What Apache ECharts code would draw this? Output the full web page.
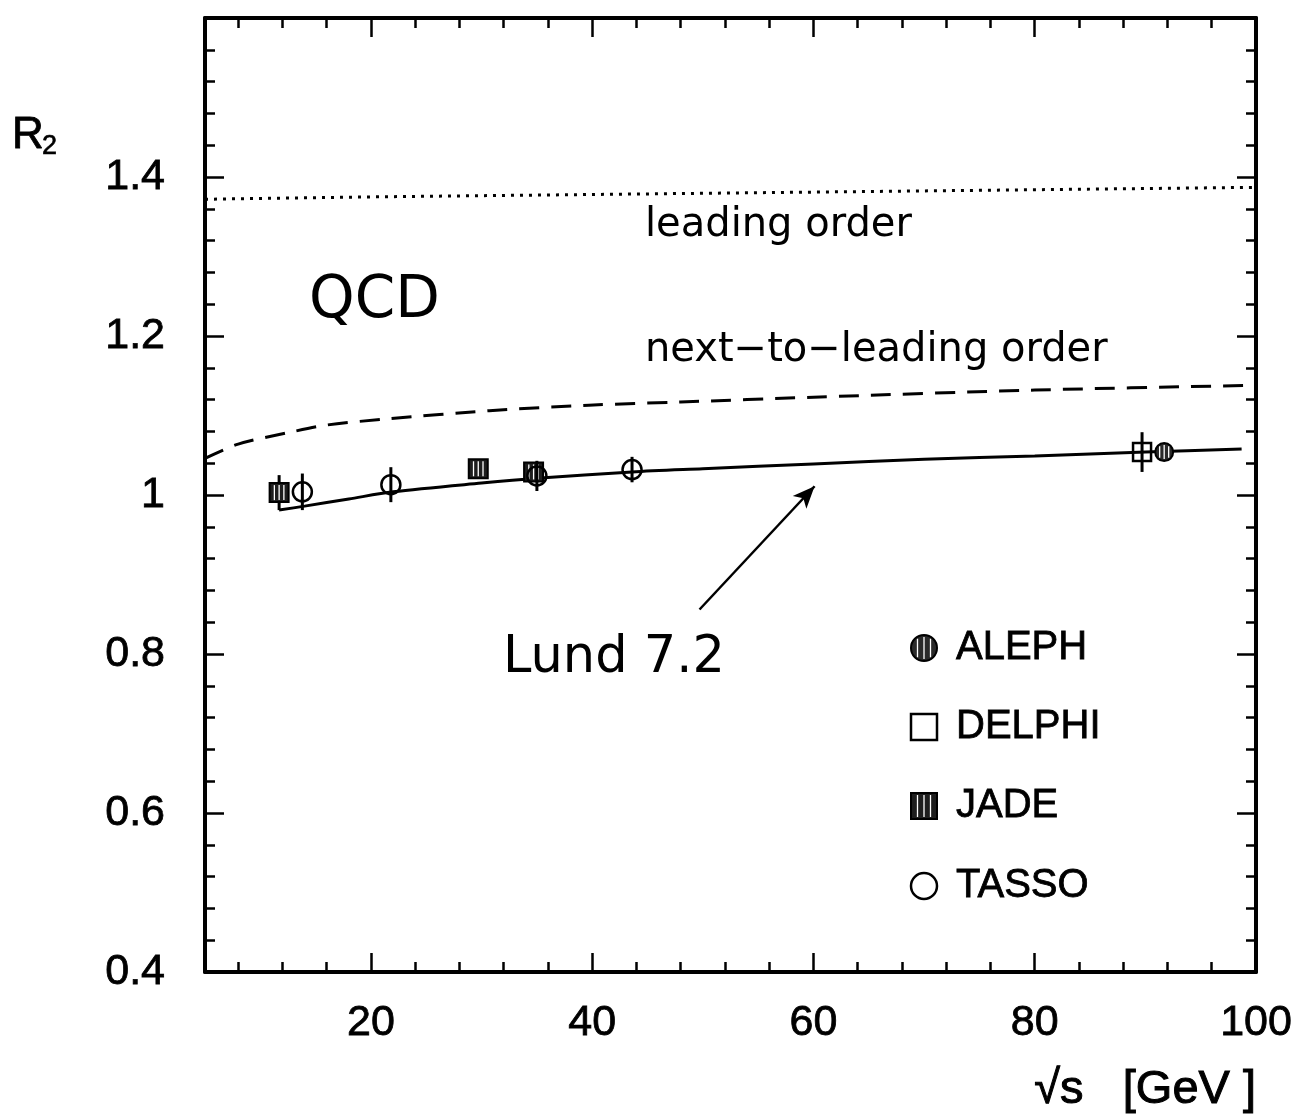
<!DOCTYPE html>
<html>
<head>
<meta charset="utf-8">
<script src="https://cdn.jsdelivr.net/npm/echarts@6/dist/echarts.min.js"></script>
<style>
html,body{margin:0;padding:0;background:#fff}
#main{width:1308px;height:1115px}
</style>
</head>
<body>
<div id="main"></div>
<script>
// values
let lo_x = [5, 20, 40, 60, 80, 100];
let lo_y = [1.372, 1.375, 1.378, 1.381, 1.384, 1.387];

let nlo_x = [5, 8, 12.7, 16, 21.7, 30.7, 39.7, 48, 60, 80, 100];
let nlo_y = [1.046, 1.064, 1.079, 1.088, 1.096, 1.106, 1.113, 1.117, 1.123, 1.132, 1.138];

let lund_x = [11.7, 14, 18, 22, 30, 35, 43.6, 50, 60, 70, 80, 90, 98.7];
let lund_y = [0.981, 0.986, 0.995, 1.004, 1.015, 1.021, 1.029, 1.033, 1.039, 1.045, 1.049, 1.054, 1.058];

// [sqrt(s), R2, error]
let aleph = [[91.7, 1.054, 0.004]];
let delphi = [[89.7, 1.054, 0.025]];
let jade = [[11.7, 1.003, 0.022], [29.7, 1.033, 0], [34.7, 1.029, 0.004]];
let tasso = [[13.8, 1.004, 0.023], [21.8, 1.013, 0.022], [35, 1.024, 0.019], [43.6, 1.032, 0.016]];

let arrow_from = [49.7, 0.856];
let arrow_to = [60.1, 1.011];

let x_major = [20, 40, 60, 80, 100];
let x_minor = [8, 12, 16, 24, 28, 32, 36, 44, 48, 52, 56, 64, 68, 72, 76, 84, 88, 92, 96];

function zip(a, b) {
	return a.map(function (v, i) { return [v, b[i]]; });
}

function stripes(cx, cy, hw, hh, round, n) {
	let out = [];
	for (let i = 1; i <= n; i++) {
		let dx = -hw + 2 * hw * i / (n + 1);
		let h = round ? Math.sqrt(hw * hw - dx * dx) : hh;
		out.push({
			type: 'line',
			shape: {x1: cx + dx, y1: cy - h + 2, x2: cx + dx, y2: cy + h - 2},
			style: {stroke: '#fff', lineWidth: 1.3}
		});
	}
	return out;
}

function marker(kind, cx, cy, r) {
	if (kind == 'circle') {
		return [{type: 'circle', shape: {cx: cx, cy: cy, r: r}, style: {fill: 'none', stroke: '#000', lineWidth: 2.5}}];
	}
	if (kind == 'square') {
		return [{type: 'rect', shape: {x: cx - r, y: cy - r, width: 2 * r, height: 2 * r}, style: {fill: 'none', stroke: '#000', lineWidth: 2.5}}];
	}
	if (kind == 'scircle') {
		return [{type: 'circle', shape: {cx: cx, cy: cy, r: r}, style: {fill: '#2a2a2a', stroke: '#000', lineWidth: 2}}]
			.concat(stripes(cx, cy, r, r, true, 3));
	}
	// striped square
	return [{type: 'rect', shape: {x: cx - r, y: cy - r, width: 2 * r, height: 2 * r}, style: {fill: '#1e1e1e', stroke: '#000', lineWidth: 2}}]
		.concat(stripes(cx, cy, r, r, false, 3));
}

function errRender(kind, r) {
	return function (params, api) {
		let x = api.value(0), y = api.value(1), e = api.value(2);
		let p = api.coord([x, y]);
		let kids = [];
		if (e > 0) {
			let t = api.coord([x, y + e]), b = api.coord([x, y - e]);
			kids.push({type: 'line', shape: {x1: p[0], y1: t[1], x2: p[0], y2: b[1]}, style: {stroke: '#000', lineWidth: 3}});
		}
		return {type: 'group', children: kids.concat(marker(kind, p[0], p[1], r))};
	};
}

let chart = echarts.init(document.getElementById('main'));

let tickStyle = {color: '#000', width: 2.5};
let axisLineStyle = {color: '#000', width: 4};
let labelFont = {fontFamily: 'Liberation Sans', fontSize: 43, color: '#000', textBorderColor: '#000', textBorderWidth: 0.8};

function xAx(pos, vals, len, main) {
	return {
		type: 'value', position: pos, min: 5, max: 100,
		axisLine: {show: main, onZero: false, lineStyle: axisLineStyle},
		axisTick: {show: true, inside: true, length: len, customValues: vals, lineStyle: tickStyle},
		axisLabel: (main && pos == 'bottom') ? Object.assign({show: true, margin: 30, customValues: x_major}, labelFont) : {show: false},
		splitLine: {show: false}
	};
}

function yAx(pos, labels) {
	return {
		type: 'value', position: pos, min: 0.4, max: 1.6, interval: 0.2,
		axisLine: {show: true, onZero: false, lineStyle: axisLineStyle},
		axisTick: {show: true, inside: true, length: 19, lineStyle: tickStyle},
		minorTick: {show: true, splitNumber: 5, length: 10, lineStyle: tickStyle},
		axisLabel: labels ? Object.assign({show: true, margin: 40, showMaxLabel: false}, labelFont) : {show: false},
		splitLine: {show: false}
	};
}

// legend drawn by hand so the striped symbols match
let legendItems = [
	['ALEPH', 'scircle', 648],
	['DELPHI', 'square', 727],
	['JADE', 'ssquare', 806],
	['TASSO', 'circle', 886]
];
let legendGraphics = [];
legendItems.forEach(function (it) {
	legendGraphics.push({type: 'group', children: marker(it[1], 924, it[2], 13)});
	legendGraphics.push({
		type: 'text',
		style: {x: 956, y: it[2], text: it[0], font: '40px "Liberation Sans"', fill: '#000', stroke: '#000', lineWidth: 0.8, textVerticalAlign: 'middle'}
	});
});

let annotations = [
	{type: 'text', style: {x: 645, y: 226, text: 'leading order', font: '40px "DejaVu Sans"', fill: '#000', textVerticalAlign: 'middle'}},
	{type: 'text', style: {x: 645, y: 351, text: 'next\u2212to\u2212leading order', font: '40px "DejaVu Sans"', fill: '#000', textVerticalAlign: 'middle'}},
	{type: 'text', style: {x: 309, y: 302, text: 'QCD', font: '58px "DejaVu Sans"', fill: '#000', textVerticalAlign: 'middle'}},
	{type: 'text', style: {x: 503, y: 659, text: 'Lund 7.2', font: '51px "DejaVu Sans"', fill: '#000', textVerticalAlign: 'middle'}},
	{type: 'text', style: {x: 12, y: 136, text: 'R', font: '44px "Liberation Sans"', fill: '#000', stroke: '#000', lineWidth: 0.8, textVerticalAlign: 'middle'}},
	{type: 'text', style: {x: 42, y: 147, text: '2', font: '27px "Liberation Sans"', fill: '#000', stroke: '#000', lineWidth: 0.6, textVerticalAlign: 'middle'}},
	{type: 'text', style: {x: 1256, y: 1090, text: '\u221As   [GeV ]', font: '47px "Liberation Sans"', fill: '#000', stroke: '#000', lineWidth: 1, textAlign: 'right', textVerticalAlign: 'middle'}}
];

let option = {
	animation: false,
	backgroundColor: '#fff',
	grid: {left: 205, right: 52, top: 18, bottom: 143, containLabel: false},
	xAxis: [
		xAx('bottom', x_major, 19, true),
		xAx('bottom', x_minor, 10, false),
		xAx('top', x_major, 19, true),
		xAx('top', x_minor, 10, false)
	],
	yAxis: [yAx('left', true), yAx('right', false)],
	graphic: annotations.concat(legendGraphics),
	series: [
		{
			name: 'leading order', type: 'line', data: zip(lo_x, lo_y), showSymbol: false,
			lineStyle: {color: '#000', width: 3, type: [3, 6]}
		},
		{
			name: 'next-to-leading order', type: 'line', data: zip(nlo_x, nlo_y), showSymbol: false, smooth: 0.3,
			lineStyle: {color: '#000', width: 3, type: [20, 12]}
		},
		{
			name: 'Lund 7.2', type: 'line', data: zip(lund_x, lund_y), showSymbol: false, smooth: 0.3,
			lineStyle: {color: '#000', width: 3},
			markLine: {
				silent: true, symbol: ['none', 'arrow'], symbolSize: [14, 22],
				label: {show: false},
				lineStyle: {color: '#000', width: 2.5, type: 'solid'},
				data: [[{coord: arrow_from}, {coord: arrow_to}]]
			}
		},
		{name: 'JADE', type: 'custom', renderItem: errRender('ssquare', 9.5), data: jade, encode: {x: 0, y: 1}, z: 5},
		{name: 'TASSO', type: 'custom', renderItem: errRender('circle', 9.5), data: tasso, encode: {x: 0, y: 1}, z: 6},
		{name: 'DELPHI', type: 'custom', renderItem: errRender('square', 9), data: delphi, encode: {x: 0, y: 1}, z: 5},
		{name: 'ALEPH', type: 'custom', renderItem: errRender('scircle', 9), data: aleph, encode: {x: 0, y: 1}, z: 5}
	]
};

chart.setOption(option);
</script>
</body>
</html>
